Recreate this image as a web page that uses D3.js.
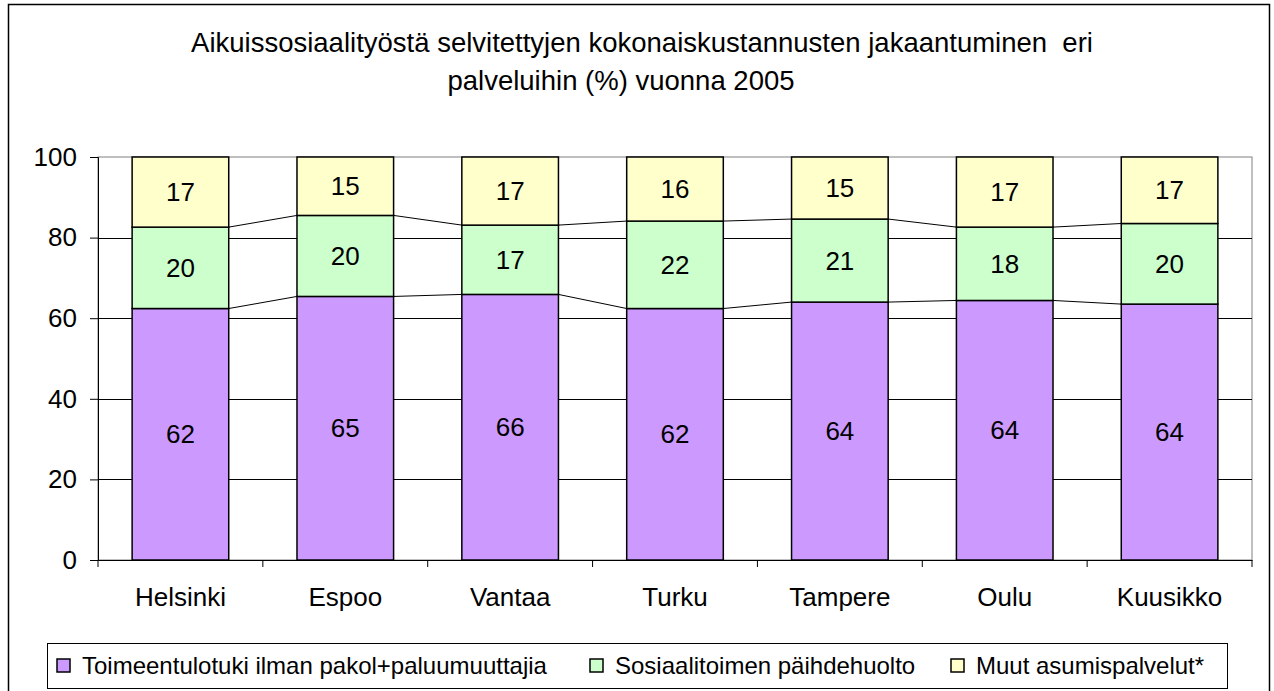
<!DOCTYPE html>
<html><head><meta charset="utf-8">
<script src="https://cdn.jsdelivr.net/npm/d3@7"></script>
<style>
html,body{margin:0;padding:0;background:#fff;}
text{font-family:Arial,"Liberation Sans",sans-serif;fill:#000;}
</style></head>
<body><svg id="c" width="1274" height="691"></svg>
<script>
const categories = ["Helsinki","Espoo","Vantaa","Turku","Tampere","Oulu","Kuusikko"];
const toimeentulotuki = [62.4, 65.4, 65.9, 62.4, 64.0, 64.4, 63.5];
const paihdehuolto    = [20.2, 20.1, 17.2, 21.7, 20.6, 18.2, 20.0];
const asumispalvelut  = [17.4, 14.5, 16.9, 15.9, 15.4, 17.4, 16.5];
const seriesNames = ["Toimeentulotuki ilman pakol+paluumuuttajia","Sosiaalitoimen päihdehuolto","Muut asumispalvelut*"];
const seriesColors = ["#CC99FF","#CCFFCC","#FFFFCC"];
const yTicks = [0,20,40,60,80,100];
const titleLines = ["Aikuissosiaalityöstä selvitettyjen kokonaiskustannusten jakaantuminen  eri","palveluihin (%) vuonna 2005"];

(function(){
const svg = d3.select("#c");
svg.append("rect").attr("x",8.5).attr("y",4.5).attr("width",1261).attr("height",700)
  .attr("fill","#fff").attr("stroke","#000").attr("stroke-width",1.5);

svg.append("text").attr("x",642).attr("y",52).attr("text-anchor","middle")
  .style("font-size","27.5px").style("white-space","pre").text(titleLines[0]);
svg.append("text").attr("x",621).attr("y",90).attr("text-anchor","middle")
  .style("font-size","27.5px").text(titleLines[1]);

const pL=98, pR=1252, pT=157, pB=560;
const x = d3.scaleBand().domain(categories).range([pL,pR]).paddingInner(0.414).paddingOuter(0.207);
const xb = d3.scaleBand().domain(categories).range([pL,pR]);
const y = d3.scaleLinear().domain([0,100]).range([pB,pT]);

svg.append("rect").attr("x",pL).attr("y",pT).attr("width",pR-pL).attr("height",pB-pT)
  .attr("fill","none").attr("stroke","#808080").attr("stroke-width",1);
svg.append("g").selectAll("line").data(yTicks.filter(d=>d>0&&d<100)).join("line")
  .attr("x1",pL).attr("x2",pR).attr("y1",d=>Math.round(y(d))+0.5).attr("y2",d=>Math.round(y(d))+0.5)
  .attr("stroke","#000").attr("stroke-width",1);

const yAxis = svg.append("g").attr("transform",`translate(${pL},0)`)
  .call(d3.axisLeft(y).tickValues(yTicks).tickSize(8).tickPadding(13));
yAxis.select(".domain").attr("stroke","#000");
yAxis.selectAll("text").style("font-size","26px").attr("fill","#000");

const xAxis = svg.append("g").attr("transform",`translate(0,${pB})`)
  .call(d3.axisBottom(xb).tickSize(0).tickPadding(28));
xAxis.select(".domain").attr("stroke","#000");
xAxis.selectAll("text").style("font-size","26px").attr("fill","#000");
const bounds = categories.map(c=>xb(c)).concat([pR]);
svg.append("g").selectAll("line").data(bounds).join("line")
  .attr("x1",d=>d).attr("x2",d=>d).attr("y1",pB).attr("y2",pB+7).attr("stroke","#000");

const rows = categories.map((c,i)=>({cat:c, s0:toimeentulotuki[i], s1:paihdehuolto[i], s2:asumispalvelut[i]}));
const stack = d3.stack().keys(["s0","s1","s2"])(rows);

stack.slice(0,2).forEach(layer=>{
  for(let i=0;i<layer.length-1;i++){
    svg.append("line")
      .attr("x1",x(categories[i])+x.bandwidth()).attr("y1",y(layer[i][1]))
      .attr("x2",x(categories[i+1])).attr("y2",y(layer[i+1][1]))
      .attr("stroke","#000").attr("stroke-width",1);
  }
});

stack.forEach((layer,k)=>{
  const g = svg.append("g");
  g.selectAll("rect").data(layer).join("rect")
    .attr("x",d=>x(d.data.cat)).attr("width",x.bandwidth())
    .attr("y",d=>y(d[1])).attr("height",d=>y(d[0])-y(d[1]))
    .attr("fill",seriesColors[k]).attr("stroke","#000").attr("stroke-width",1.5);
  g.selectAll("text").data(layer).join("text")
    .attr("x",d=>x(d.data.cat)+x.bandwidth()/2)
    .attr("y",d=>(y(d[0])+y(d[1]))/2)
    .attr("text-anchor","middle").attr("dominant-baseline","central")
    .style("font-size","26px")
    .text(d=>Math.round(d[1]-d[0]));
});

const lg = svg.append("g");
lg.append("rect").attr("x",47.5).attr("y",643.5).attr("width",1180).attr("height",45)
  .attr("fill","#fff").attr("stroke","#000").attr("stroke-width",1);
const legX = [57, 590, 951];
seriesNames.forEach((n,i)=>{
  lg.append("rect").attr("x",legX[i]).attr("y",659).attr("width",13).attr("height",13)
    .attr("fill",seriesColors[i]).attr("stroke","#000").attr("stroke-width",1.5);
  lg.append("text").attr("x",legX[i]+25).attr("y",665).attr("dominant-baseline","central")
    .style("font-size","24px").text(n);
});
})();
</script></body></html>
